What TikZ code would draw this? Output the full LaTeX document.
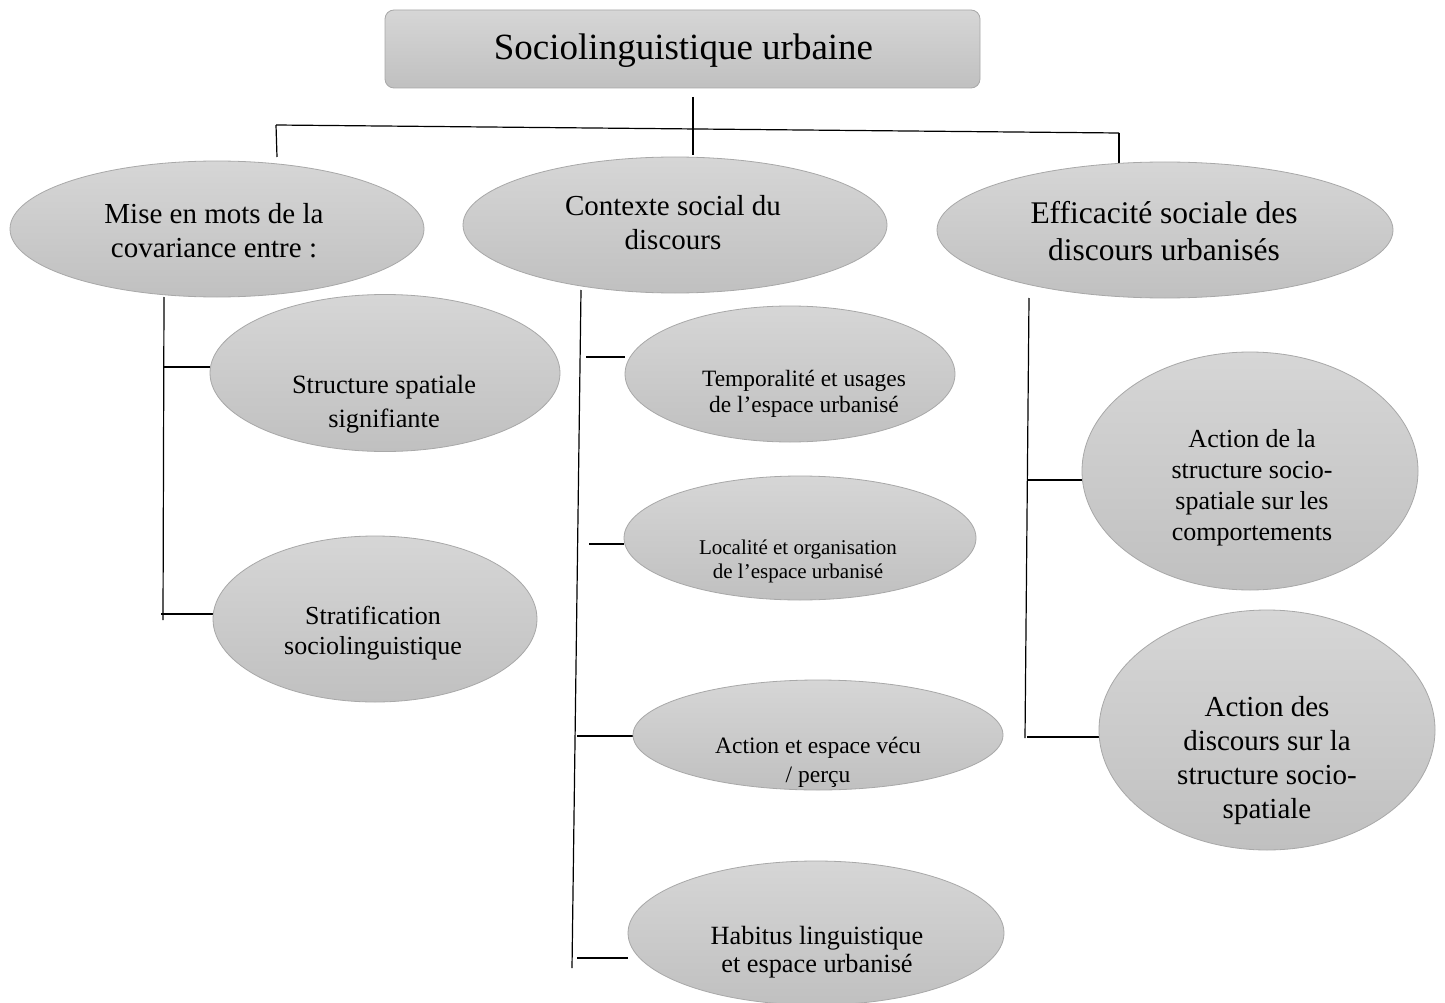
\documentclass[tikz,border=0pt]{standalone}
\usepackage{fontspec}
\setmainfont{Liberation Serif}
\usetikzlibrary{shapes.geometric}
\definecolor{gtop}{RGB}{214,214,214}
\definecolor{gbot}{RGB}{192,192,192}
\definecolor{gline}{RGB}{168,168,168}
\pgfdeclarelayer{back}
\pgfdeclarelayer{bg}
\pgfsetlayers{back,bg,main}
\begin{document}
\begin{tikzpicture}[x=1pt,y=-1pt,
  oval/.style={ellipse, draw=gline, line width=0.8pt, top color=gtop, bottom color=gbot, inner sep=0pt},
  boxnode/.style={rectangle, rounded corners=9pt, draw=gline, line width=0.8pt, top color=gtop, bottom color=gbot, inner sep=0pt},
  lbl/.style={align=center, text=black, inner sep=0pt},
  conn/.style={line width=1.2pt, black}]
\begin{pgfonlayer}{back}
\fill[white] (0,0) rectangle (1445,1003);
\end{pgfonlayer}
\useasboundingbox (0,0) rectangle (1445,1003);

% top box
\node[boxnode, minimum width=595, minimum height=78] (Top) at (682.5,49) {};
\node[lbl, font=\fontsize{37}{42}\selectfont] (TopT) at (683.5,51) {Sociolinguistique urbaine};

% level 1
\node[oval, minimum width=414, minimum height=136] (E1) at (217,229) {};
\node[oval, minimum width=424, minimum height=136] (E2) at (675,225) {};
\node[oval, minimum width=456, minimum height=136] (E3) at (1165,230) {};
\node[lbl, font=\fontsize{29}{34}\selectfont] (T1) at (214,231) {Mise en mots de la\\covariance entre :};
\node[lbl, font=\fontsize{29}{34}\selectfont] (T2) at (673,223) {Contexte social du\\discours};
\node[lbl, font=\fontsize{31.5}{37}\selectfont] (T3) at (1164,231) {Efficacité sociale des\\discours urbanisés};

% left column
\node[oval, minimum width=350, minimum height=157] (E1a) at (385,373) {};
\node[oval, minimum width=324, minimum height=166] (E1b) at (375,619) {};
\node[lbl, font=\fontsize{26.4}{34}\selectfont] (T1a) at (384,404) {Structure spatiale\\signifiante};
\node[lbl, font=\fontsize{26}{30}\selectfont] (T1b) at (373,633) {Stratification\\sociolinguistique};

% middle column
\node[oval, minimum width=330, minimum height=136] (E2a) at (790,374) {};
\node[oval, minimum width=352, minimum height=124] (E2b) at (800,538) {};
\node[oval, minimum width=370, minimum height=110] (E2c) at (818,735) {};
\node[oval, minimum width=376, minimum height=144] (E2d) at (816,933) {};
\node[lbl, font=\fontsize{23.4}{26}\selectfont] (T2a) at (804,394) {Temporalité et usages\\de l’espace urbanisé};
\node[lbl, font=\fontsize{21}{24}\selectfont] (T2b) at (798,561) {Localité et organisation\\de l’espace urbanisé};
\node[lbl, font=\fontsize{23.5}{29}\selectfont] (T2c) at (818,762) {Action et espace vécu\\/ perçu};
\node[lbl, font=\fontsize{26.3}{28}\selectfont] (T2d) at (817,952) {Habitus linguistique\\et espace urbanisé};

% right column
\node[oval, minimum width=336, minimum height=238] (E3a) at (1250,471) {};
\node[oval, minimum width=336, minimum height=240] (E3b) at (1267,730) {};
\node[lbl, font=\fontsize{26}{31}\selectfont] (T3a) at (1252,488) {Action de la\\structure socio-\\spatiale sur les\\comportements};
\node[lbl, font=\fontsize{29}{34}\selectfont] (T3b) at (1267,761) {Action des\\discours sur la\\structure socio-\\spatiale};

% connector coordinates
\coordinate (tA) at (693,97);
\coordinate (tB) at (693,155);
\coordinate (hL) at (276,125);
\coordinate (hR) at (1119,133);
\coordinate (hLd) at (277,157);
\coordinate (hRd) at (1119,163);
\coordinate (lA) at (164,297);
\coordinate (lB) at (163,620);
\coordinate (lb1) at (164,367);
\coordinate (lb2) at (161,614);
\coordinate (mA) at (581,290);
\coordinate (mB) at (572,968);
\coordinate (mb1) at (586,357);
\coordinate (mb2) at (589,544);
\coordinate (mb3) at (577,736);
\coordinate (mb4) at (577,958);
\coordinate (rA) at (1029,298);
\coordinate (rB) at (1025,738);
\coordinate (rb1) at (1027,480);
\coordinate (rb2) at (1027,737);

\begin{pgfonlayer}{bg}
\draw[conn] (tA) -- (tB);
\draw[conn] (hL) -- (hR);
\draw[conn] (hL) -- (hLd);
\draw[conn] (hR) -- (hRd);
\draw[conn] (lA) -- (lB);
\draw[conn] (lb1) -- (lb1 -| E1a.west);
\draw[conn] (lb2) -- (lb2 -| E1b.west);
\draw[conn] (mA) -- (mB);
\draw[conn] (mb1) -- (mb1 -| E2a.west);
\draw[conn] (mb2) -- (mb2 -| E2b.west);
\draw[conn] (mb3) -- (mb3 -| E2c.west);
\draw[conn] (mb4) -- (mb4 -| E2d.west);
\draw[conn] (rA) -- (rB);
\draw[conn] (rb1) -- (rb1 -| E3a.west);
\draw[conn] (rb2) -- (rb2 -| E3b.west);
\end{pgfonlayer}
\end{tikzpicture}
\end{document}
